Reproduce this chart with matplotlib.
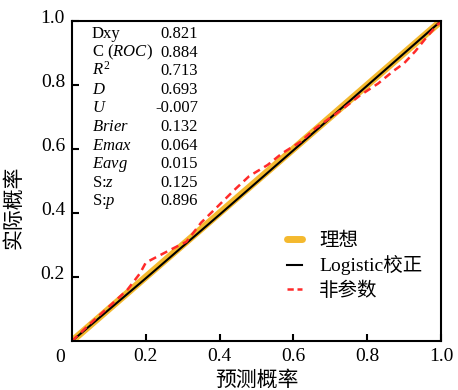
import matplotlib
matplotlib.use("Agg")
import matplotlib.pyplot as plt
from matplotlib.transforms import ScaledTranslation

plt.rcParams['font.family'] = ['Liberation Serif', 'Noto Sans CJK SC']
plt.rcParams['mathtext.fontset'] = 'custom'
plt.rcParams['mathtext.rm'] = 'Liberation Serif'
plt.rcParams['mathtext.it'] = 'Liberation Serif:italic'

# ---- data ----
ideal_x = [0.0, 1.0]
ideal_y = [0.0, 1.0]
logistic_x = [0.0, 0.2, 0.4, 0.6, 0.8, 1.0]
logistic_y = [0.0, 0.196, 0.395, 0.596, 0.798, 1.0]
nonpar_x = [0.0, 0.05, 0.10, 0.15, 0.184, 0.20, 0.23, 0.275, 0.31, 0.35, 0.39, 0.44,
            0.48, 0.53, 0.57, 0.62, 0.66, 0.73, 0.78, 0.83, 0.87, 0.90, 0.93, 0.96, 0.99, 1.0]
nonpar_y = [0.0, 0.055, 0.107, 0.16, 0.211, 0.245, 0.263, 0.29, 0.31, 0.37, 0.415, 0.472,
            0.515, 0.55, 0.587, 0.623, 0.665, 0.722, 0.767, 0.805, 0.843, 0.868, 0.905, 0.948, 0.988, 0.997]
stat_names = ['Dxy', r'C ($ROC$)', r'$R^2$', r'$D$', r'$U$', r'$Brier$', r'$Emax$',
              r'$Eavg$', r'S:$z$', r'S:$p$']
stat_values = ['0.821', '0.884', '0.713', '0.693', '-0.007', '0.132', '0.064',
               '0.015', '0.125', '0.896']
ticks = [0.2, 0.4, 0.6, 0.8, 1.0]
tick_labels = ['0.2', '0.4', '0.6', '0.8', '1.0']
legend_labels = ['理想', 'Logistic校正', '非参数']

fig = plt.figure(figsize=(4.58, 3.90), dpi=100)
ax = fig.add_axes([72/458, 1-341/390, (441-72)/458, (341-21)/390])

ax.plot(ideal_x, ideal_y, color='#F4B92E', lw=5, solid_capstyle='butt', label=legend_labels[0])
ax.plot(logistic_x, logistic_y, color='black', lw=1.5, label=legend_labels[1])
ax.plot(nonpar_x, nonpar_y, color='#FF2A2A', lw=1.8, ls=(0, (3, 2)), label=legend_labels[2])

ax.set_xlim(0, 1)
ax.set_ylim(0, 1)
ax.set_xticks(ticks)
ax.set_xticklabels(tick_labels)
ax.set_yticks(ticks)
ax.set_yticklabels(tick_labels)
ax.tick_params(direction='in', length=5, width=1.5, labelsize=14, pad=5)
for s in ax.spines.values():
    s.set_linewidth(1.5)
for lab in ax.get_yticklabels():
    lab.set_transform(lab.get_transform() + ScaledTranslation(0, 3/72, fig.dpi_scale_trans))

fig.text(60/458, 1-357/390, '0', fontsize=14, ha='center', va='center')
fig.text(257/458, 1-380/390, '预测概率', fontsize=15, ha='center', va='center',
         family=['Noto Sans CJK SC'])
fig.text(13/458, 1-207/390, '实际概率', fontsize=15, ha='center', va='center',
         rotation=90, family=['Noto Sans CJK SC'])

row0 = 38
dy = 18.6
for i, (n, v) in enumerate(zip(stat_names, stat_values)):
    y = 1 - (row0 + i*dy)/390
    fig.text(92/458, y, n, fontsize=12, ha='left', va='baseline')
    fig.text(198/458, y, v, fontsize=12, ha='right', va='baseline')

leg = ax.legend(loc='upper left', bbox_to_anchor=((287-72)/369, (341-232)/320),
                frameon=False, fontsize=14, handlelength=0.75, handletextpad=0.9,
                labelspacing=0.3, borderpad=0, borderaxespad=0)
leg.get_lines()[0].set_solid_capstyle('round')
leg.get_lines()[0].set_linewidth(5)
leg.get_lines()[2].set_linestyle((0, (2.5, 1.5)))

fig.savefig('out.png', dpi=100)
